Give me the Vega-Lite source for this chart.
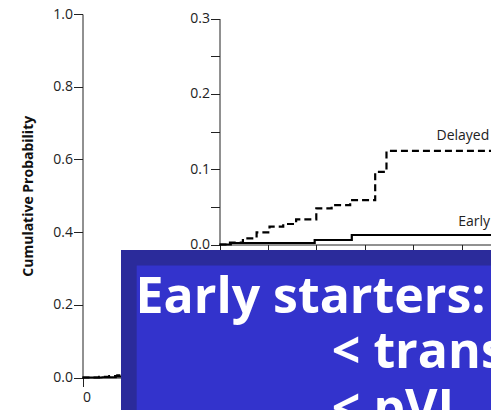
{
  "$schema": "https://vega.github.io/schema/vega-lite/v6.json",
  "width": 491,
  "height": 410,
  "autosize": "none",
  "padding": 0,
  "background": "white",
  "config": {
    "view": {"stroke": null},
    "font": "Open Sans",
    "axis": {
      "grid": false,
      "labelFont": "Open Sans",
      "labelFontSize": 14,
      "labelColor": "#222",
      "domainColor": "#222",
      "tickColor": "#222",
      "tickSize": 9,
      "labelPadding": 1,
      "titleFont": "Open Sans",
      "titleColor": "#111"
    }
  },
  "datasets": {
    "main": [
      {"t": 0, "p": 0, "group": "Delayed"},
      {"t": 2.5, "p": 0.002, "group": "Delayed"},
      {"t": 4, "p": 0.004, "group": "Delayed"},
      {"t": 5.2, "p": 0.006, "group": "Delayed"},
      {"t": 10, "p": 0.01, "group": "Delayed"},
      {"t": 0, "p": 0, "group": "Early"},
      {"t": 3, "p": 0.001, "group": "Early"},
      {"t": 5, "p": 0.003, "group": "Early"},
      {"t": 10, "p": 0.004, "group": "Early"}
    ],
    "inset": [
      {"t": 0, "p": 0, "group": "Delayed"},
      {"t": 1.3, "p": 0.0024, "group": "Delayed"},
      {"t": 2.9, "p": 0.0082, "group": "Delayed"},
      {"t": 4.6, "p": 0.0161, "group": "Delayed"},
      {"t": 6.2, "p": 0.0236, "group": "Delayed"},
      {"t": 7.9, "p": 0.0272, "group": "Delayed"},
      {"t": 9.5, "p": 0.0334, "group": "Delayed"},
      {"t": 12.0, "p": 0.048, "group": "Delayed"},
      {"t": 13.9, "p": 0.0523, "group": "Delayed"},
      {"t": 16.2, "p": 0.059, "group": "Delayed"},
      {"t": 19.3, "p": 0.0964, "group": "Delayed"},
      {"t": 20.7, "p": 0.1242, "group": "Delayed"},
      {"t": 40, "p": 0.1242, "group": "Delayed"},
      {"t": 0, "p": 0, "group": "Early"},
      {"t": 1.4, "p": 0.002, "group": "Early"},
      {"t": 11.8, "p": 0.006, "group": "Early"},
      {"t": 16.4, "p": 0.0126, "group": "Early"},
      {"t": 40, "p": 0.0126, "group": "Early"}
    ],
    "insetLabels": [
      {"t": 26.9, "p": 0.1389, "label": "Delayed"},
      {"t": 29.6, "p": 0.0244, "label": "Early"}
    ],
    "box": [
      {"x1": 5.775, "x2": 70, "y1": 0.3508, "y2": -0.2, "part": "outer"},
      {"x1": 8.13, "x2": 70, "y1": 0.3081, "y2": -0.2, "part": "inner"}
    ],
    "slideText": [
      {"t": 7.95, "p": 0.1766, "label": "Early starters:"},
      {"t": 37.4, "p": 0.0253, "label": "< trans"},
      {"t": 37.4, "p": -0.1307, "label": "< pVL"}
    ]
  },
  "layer": [
    {
      "data": {"name": "main"},
      "mark": {"type": "line", "interpolate": "step-after", "color": "black", "strokeWidth": 2},
      "encoding": {
        "x": {"field": "t", "type": "quantitative",
              "scale": {"domain": [0, 60], "range": [82.5, 482.5], "nice": false, "zero": false},
              "axis": {"orient": "bottom", "offset": -32.5, "values": [0], "title": null, "labelPadding": 4, "domain": true}},
        "y": {"field": "p", "type": "quantitative",
              "scale": {"domain": [0, 1], "range": [377.5, 14], "nice": false},
              "axis": {"orient": "left", "offset": -82.5, "values": [0, 0.2, 0.4, 0.6, 0.8, 1.0], "format": ".1f",
                       "title": "Cumulative Probability", "titleFontWeight": "bold", "titleFontSize": 14, "titlePadding": 17}},
        "strokeDash": {"field": "group", "type": "nominal",
                       "scale": {"domain": ["Delayed", "Early"], "range": [[7, 4], [1, 0]]}, "legend": null},
        "detail": {"field": "group"}
      }
    },
    {
      "data": {"name": "inset"},
      "mark": {"type": "line", "interpolate": "step-after", "color": "black", "strokeWidth": 2.2},
      "encoding": {
        "x": {"field": "t", "type": "quantitative",
              "scale": {"domain": [0, 60], "range": [219.5, 703.5], "nice": false, "zero": false},
              "axis": {"orient": "bottom", "offset": -165.5, "values": [0, 6, 12, 18, 24, 30, 36, 42, 48, 54, 60], "labels": false, "title": null}},
        "y": {"field": "p", "type": "quantitative",
              "scale": {"domain": [0, 0.3], "range": [244.5, 18.5], "nice": false},
              "axis": {"orient": "left", "offset": -219.5, "values": [0, 0.05, 0.1, 0.15, 0.2, 0.25, 0.3],
                       "labelExpr": "round(datum.value * 20) % 2 == 0 ? format(datum.value, '.1f') : ''", "title": null}},
        "strokeDash": {"field": "group", "type": "nominal",
                       "scale": {"domain": ["Delayed", "Early"], "range": [[7, 4], [1, 0]]}, "legend": null},
        "detail": {"field": "group"}
      }
    },
    {
      "data": {"name": "insetLabels"},
      "mark": {"type": "text", "align": "left", "baseline": "alphabetic", "font": "Open Sans", "fontSize": 14, "color": "#222"},
      "encoding": {
        "x": {"field": "t", "type": "quantitative", "scale": {"domain": [0, 60], "range": [219.5, 703.5], "nice": false, "zero": false}, "axis": null},
        "y": {"field": "p", "type": "quantitative", "scale": {"domain": [0, 0.3], "range": [244.5, 18.5], "nice": false}, "axis": null},
        "text": {"field": "label"}
      }
    },
    {
      "data": {"name": "box"},
      "mark": {"type": "rect"},
      "encoding": {
        "x": {"field": "x1", "type": "quantitative", "scale": {"domain": [0, 60], "range": [82.5, 482.5], "nice": false, "zero": false}, "axis": null},
        "x2": {"field": "x2"},
        "y": {"field": "y1", "type": "quantitative", "scale": {"domain": [0, 1], "range": [377.5, 14], "nice": false, "zero": false}, "axis": null},
        "y2": {"field": "y2"},
        "color": {"field": "part", "type": "nominal", "scale": {"domain": ["outer", "inner"], "range": ["#2b2b9b", "#3333cc"]}, "legend": null}
      }
    },
    {
      "data": {"name": "slideText"},
      "mark": {"type": "text", "align": "left", "baseline": "alphabetic", "font": "Open Sans", "fontWeight": "bold", "fontSize": 50, "color": "white"},
      "encoding": {
        "x": {"field": "t", "type": "quantitative", "scale": {"domain": [0, 60], "range": [82.5, 482.5], "nice": false, "zero": false}, "axis": null},
        "y": {"field": "p", "type": "quantitative", "scale": {"domain": [0, 1], "range": [377.5, 14], "nice": false, "zero": false}, "axis": null},
        "text": {"field": "label"}
      }
    }
  ],
  "resolve": {
    "scale": {"x": "independent", "y": "independent", "color": "independent", "strokeDash": "independent"},
    "axis": {"x": "independent", "y": "independent"}
  }
}
